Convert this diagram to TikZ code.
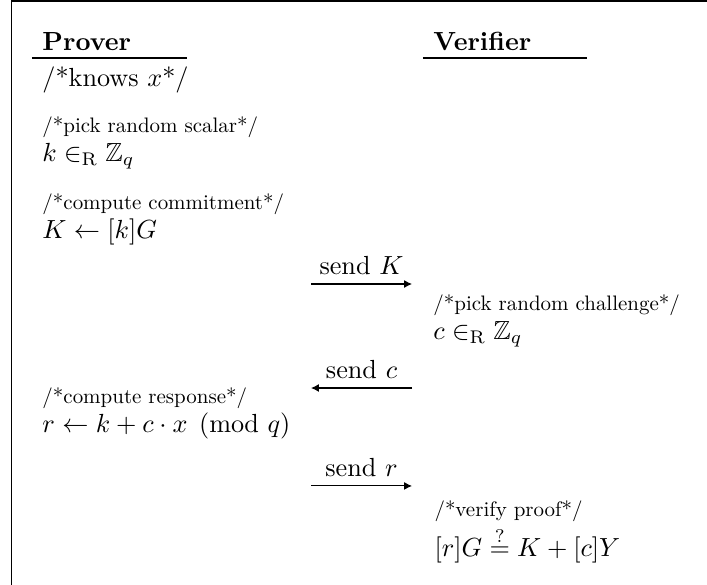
\documentclass[tikz,border=0pt]{standalone}
\usepackage{amssymb,amsmath}
\usepackage{fontspec}
\newfontfamily\cmtfont{lmroman10-regular.otf}
\usepackage{tikz}
\usetikzlibrary{arrows.meta}
\tikzset{
    % text rows of the two parties
    txt/.style={anchor=base west, inner sep=0pt},
    cmt/.style={anchor=base west, inner sep=0pt, font=\cmtfont\fontsize{8}{10}\selectfont},
    % messages between prover and verifier
    msgarrow/.style={
        line width=0.4pt,
        black,
        ->,
        >={Latex[length=3pt, width=3pt]}
    }
}

\begin{document}
\begin{tikzpicture}
            \useasboundingbox (0,0) rectangle (9.484,-7.847);
            \draw[line width=0.7pt] (9.6,-0.013) -- (0.154,-0.013) -- (0.154,-7.9);

            % headers
            \node[txt] (prover) at (0.563,-0.671) {\textbf{Prover}};
            \node[txt] (verifier) at (5.808,-0.671) {\textbf{Verifier}};
            \draw[line width=0.5pt] (0.429,-0.778) -- (2.508,-0.778);
            \draw[line width=0.5pt] (5.674,-0.778) -- (7.874,-0.778);

            % prover side
            \node[txt] (knows) at (0.563,-1.167) {/*knows $x$*/};
            \node[cmt] (pickk) at (0.563,-1.771) {/*pick random scalar*/};
            \node[txt] (kin) at (0.563,-2.173) {$k \in_{\mathrm{R}} \mathbb{Z}_q$};
            \node[cmt] (commit) at (0.563,-2.817) {/*compute commitment*/};
            \node[txt] (Kdef) at (0.563,-3.206) {$K \leftarrow [k]G$};
            \node[cmt] (resp) at (0.563,-5.419) {/*compute response*/};
            \node[txt] (rdef) at (0.563,-5.808) {$r \leftarrow k + c \cdot x \pmod{q}$};

            % verifier side
            \node[cmt] (pickc) at (5.808,-4.172) {/*pick random challenge*/};
            \node[txt] (cin) at (5.808,-4.561) {$c \in_{\mathrm{R}} \mathbb{Z}_q$};
            \node[cmt] (check) at (5.822,-6.935) {/*verify proof*/};
            \node[txt] (eqn) at (5.822,-7.471) {$[r]G \stackrel{?}{=} K + [c]Y$};

            % messages
            \coordinate (m1a) at (4.172,-3.810);
            \coordinate (m1b) at (5.527,-3.810);
            \coordinate (m2a) at (4.172,-5.205);
            \coordinate (m2b) at (5.527,-5.205);
            \coordinate (m3a) at (4.172,-6.519);
            \coordinate (m3b) at (5.527,-6.519);

            \draw[msgarrow] (m1a) -- node[above] (sendK) {send $K$} (m1b);
            \draw[msgarrow] (m2b) -- node[above] (sendc) {send $c$} (m2a);
            \draw[msgarrow] (m3a) -- node[above] (sendr) {send $r$} (m3b);
        \end{tikzpicture}
\end{document}
